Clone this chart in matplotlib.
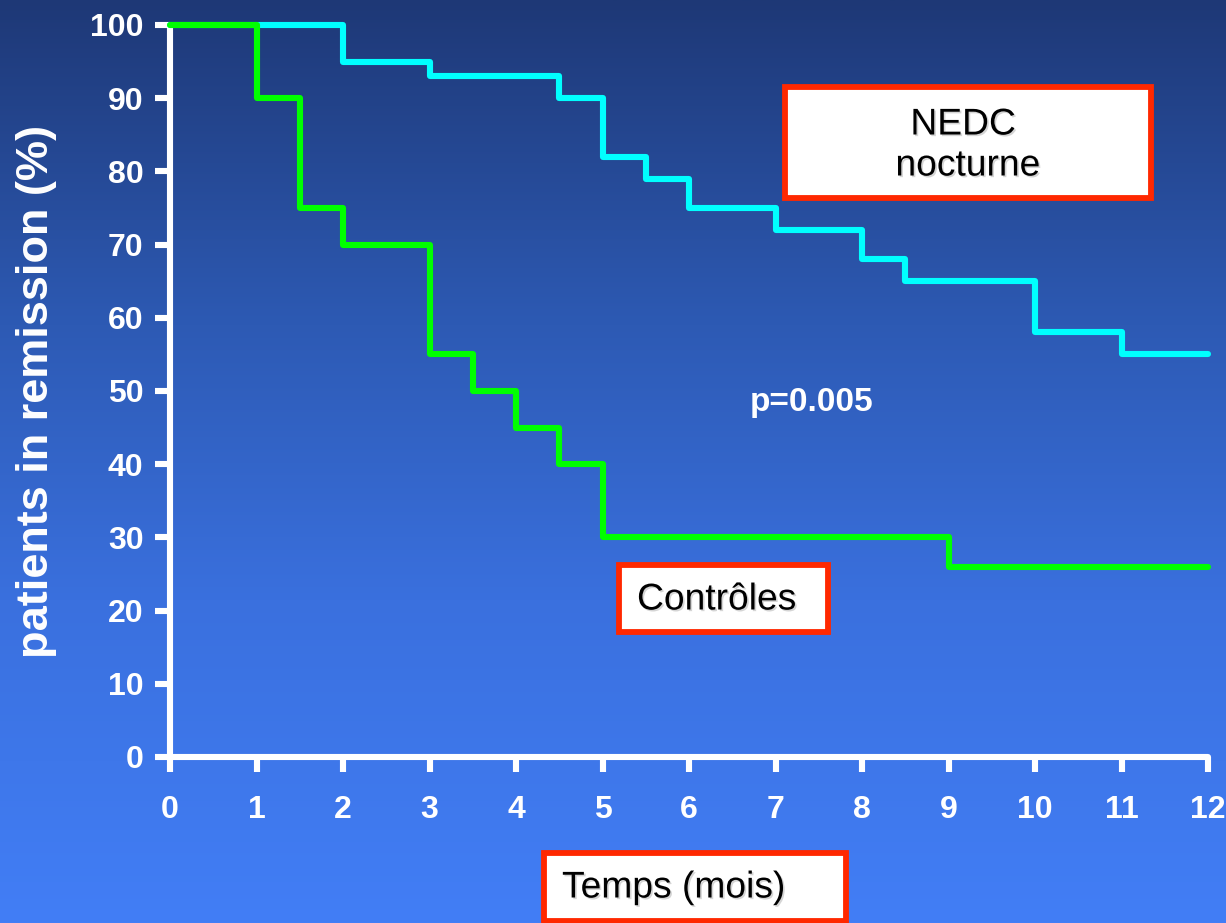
import numpy as np
import matplotlib
matplotlib.use("Agg")
import matplotlib.pyplot as plt
from matplotlib.patches import Rectangle
import matplotlib.patheffects as pe

# Kaplan-Meier style remission curves (step functions, value holds until next time)
nedc_t = [0, 2, 3, 4.5, 5, 5.5, 6, 7, 8, 8.5, 10, 11, 12]
nedc_v = [100, 95, 93, 90, 82, 79, 75, 72, 68, 65, 58, 55, 55]
ctrl_t = [0, 1, 1.5, 2, 3, 3.5, 4, 4.5, 5, 9, 12]
ctrl_v = [100, 90, 75, 70, 55, 50, 45, 40, 30, 26, 26]

x_ticks = list(range(0, 13))
y_ticks = list(range(0, 101, 10))

W, H = 1226, 923
fig = plt.figure(figsize=(W / 100, H / 100), dpi=100)

# vertical blue gradient background
bg = fig.add_axes([0, 0, 1, 1], zorder=-10)
bg.set_axis_off()
stops_y = np.array([0, 325, 600, 923]) / 923
stops_c = np.array([[30, 56, 118], [45, 90, 180], [58, 112, 222], [66, 126, 246]]) / 255
yy = np.linspace(0, 1, 600)
grad = np.stack([np.interp(yy, stops_y, stops_c[:, k]) for k in range(3)], axis=-1)
bg.imshow(grad[:, None, :], aspect="auto", extent=[0, 1, 1, 0])
bg.set_xlim(0, 1)
bg.set_ylim(1, 0)

def fx(px):
    return px / W

def fy(py):
    return 1 - py / H

ax = fig.add_axes([fx(170), fy(757), fx(1208) - fx(170), fy(25) - fy(757)])
ax.set_facecolor("none")
ax.set_xlim(0, 12)
ax.set_ylim(0, 100)

lw = 4.4
ax.step(nedc_t, nedc_v, where="post", color="#00ffff", lw=lw, clip_on=False,
        solid_capstyle="round", solid_joinstyle="round", zorder=3)
ax.step(ctrl_t, ctrl_v, where="post", color="#00ff00", lw=lw, clip_on=False,
        solid_capstyle="round", solid_joinstyle="round", zorder=4)

for s in ["top", "right"]:
    ax.spines[s].set_visible(False)
for s in ["left", "bottom"]:
    ax.spines[s].set_color("white")
    ax.spines[s].set_linewidth(lw)
    ax.spines[s].set_capstyle("round")
    ax.spines[s].set_zorder(2)

ax.set_xticks(x_ticks)
ax.set_yticks(y_ticks)
ax.tick_params(axis="both", colors="white", direction="out", length=11, width=lw)
ax.tick_params(axis="x", pad=16)
ax.tick_params(axis="y", pad=8)
tick_font = dict(family="Liberation Sans", weight="bold", size=23, color="white")
ax.set_xticklabels([str(v) for v in x_ticks], **tick_font)
ax.set_yticklabels([str(v) for v in y_ticks], **tick_font)

fig.text(fx(37), fy(391), "patients in remission (%)", rotation=90, ha="center", va="center",
         family="Liberation Sans", weight="bold", size=32.5, color="white")

fig.text(fx(812), fy(403), "p=0.005", ha="center", va="center",
         family="Liberation Sans", weight="bold", size=24, color="white")

shadow = [pe.SimplePatchShadow(offset=(1.2, -1.2), shadow_rgbFace="#777777", alpha=0.3), pe.Normal()]
box_font = dict(family="Liberation Sans", size=26.8, color="black", path_effects=shadow)

def box(x0, y0, x1, y1):
    fig.patches.append(Rectangle((fx(x0), fy(y1)), fx(x1) - fx(x0), fy(y0) - fy(y1),
                                 transform=fig.transFigure, facecolor="white",
                                 edgecolor="#ff2800", linewidth=4.2, zorder=5))

box(785, 87, 1151, 198)
fig.text(fx(963), fy(125), "NEDC", ha="center", va="center", zorder=6, **box_font)
fig.text(fx(968), fy(166), "nocturne", ha="center", va="center", zorder=6, **box_font)

box(619, 565, 828, 632)
fig.text(fx(637), fy(600), "Contrôles", ha="left", va="center", zorder=6, **box_font)

box(544, 853, 846, 921)
fig.text(fx(562), fy(888), "Temps (mois)", ha="left", va="center", zorder=6, **box_font)

fig.savefig("out.png", dpi=100)
